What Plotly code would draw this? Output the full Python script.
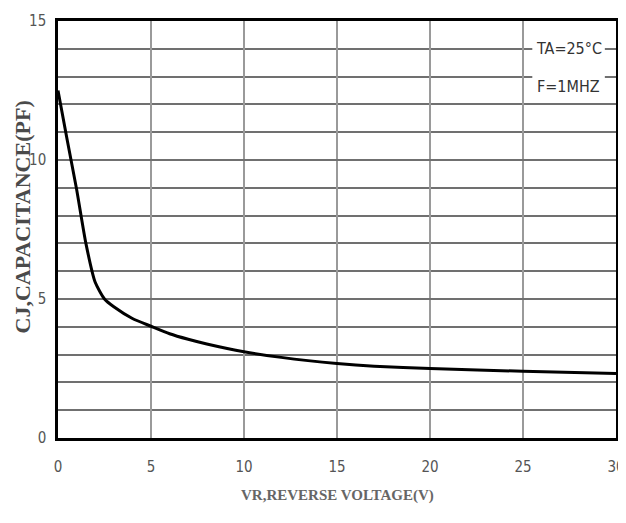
import plotly.graph_objects as go

voltage = [0, 0.5, 1, 1.5, 2, 2.5, 3, 4, 5, 6, 7, 8, 10, 12, 15, 17, 20, 25, 30]
capacitance = [12.5, 10.7, 8.95, 7.0, 5.6, 5.0, 4.72, 4.3, 4.02, 3.75, 3.55, 3.38, 3.1, 2.9, 2.68, 2.58, 2.5, 2.4, 2.32]

x_ticks = [0, 5, 10, 15, 20, 25, 30]
y_ticks = [0, 5, 10, 15]
legend_lines = ["TA=25°C", "F=1MHZ"]

tick_font = dict(family="Liberation Sans Narrow, DejaVu Sans Condensed, sans-serif", size=15, color="#555555")
note_font = dict(family="Liberation Sans Narrow, DejaVu Sans Condensed, sans-serif", size=16, color="#333333")

fig = go.Figure()
fig.add_trace(go.Scatter(
    x=voltage, y=capacitance, mode="lines",
    line=dict(color="black", width=3, shape="spline", smoothing=0.6),
    showlegend=False, hoverinfo="skip"))

fig.update_layout(
    width=618, height=500,
    margin=dict(l=50, r=10, t=13, b=70),
    paper_bgcolor="white", plot_bgcolor="white",
    xaxis=dict(range=[0, 30], tickvals=x_ticks, ticktext=[str(v) for v in x_ticks],
               showgrid=True, gridcolor="#9a9a9a", gridwidth=1.5,
               showline=True, linecolor="black", linewidth=2.5, mirror=True,
               ticks="", ticklabelstandoff=13, tickfont=tick_font, zeroline=False,
               automargin=False),
    yaxis=dict(range=[0, 15], tickvals=y_ticks, ticktext=[str(v) for v in y_ticks],
               showgrid=True, gridcolor="#707070", gridwidth=1.5,
               minor=dict(dtick=1, showgrid=True, gridcolor="#707070", gridwidth=1.5),
               showline=True, linecolor="black", linewidth=2.5, mirror=True,
               ticks="", ticklabelstandoff=6, tickfont=tick_font, zeroline=False,
               automargin=False),
)

fig.add_shape(type="rect", xref="x", yref="y", x0=25.5, x1=29.4, y0=12.1, y1=14.7,
              fillcolor="white", line=dict(width=0), layer="between")

fig.add_annotation(x=27.45, y=14, xref="x", yref="y", text=legend_lines[0], showarrow=False, font=note_font)
fig.add_annotation(x=27.45, y=12.65, xref="x", yref="y", text=legend_lines[1], showarrow=False, font=note_font)

fig.add_annotation(x=0.5, y=0, xref="paper", yref="paper", yanchor="middle", yshift=-57,
                   text="<b>VR,REVERSE VOLTAGE(V)</b>", showarrow=False,
                   font=dict(family="Liberation Serif, Times New Roman, serif", size=15, color="#666666"))
fig.add_annotation(x=0, y=0.5, xref="paper", yref="paper", xanchor="center", yanchor="middle",
                   xshift=-36, yshift=12, textangle=-90,
                   text="<b>CJ,CAPACITANCE(PF)</b>", showarrow=False,
                   font=dict(family="Liberation Serif, Times New Roman, serif", size=22, color="#4a4a4a"))

fig.write_html("out.html")
